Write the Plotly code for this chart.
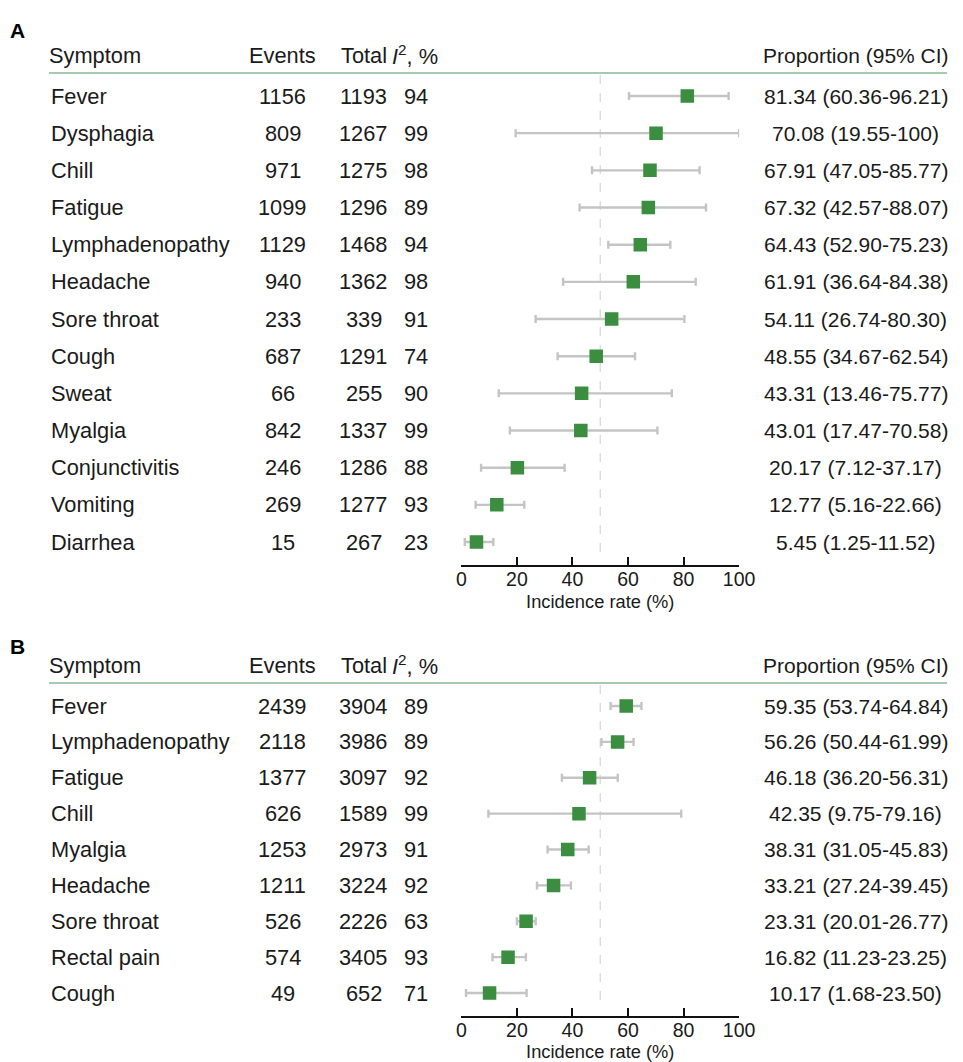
import plotly.graph_objects as go

# ---------------- Panel A data ----------------
symptoms_a = ["Fever", "Dysphagia", "Chill", "Fatigue", "Lymphadenopathy", "Headache",
              "Sore throat", "Cough", "Sweat", "Myalgia", "Conjunctivitis", "Vomiting", "Diarrhea"]
events_a = [1156, 809, 971, 1099, 1129, 940, 233, 687, 66, 842, 246, 269, 15]
total_a = [1193, 1267, 1275, 1296, 1468, 1362, 339, 1291, 255, 1337, 1286, 1277, 267]
i2_a = [94, 99, 98, 89, 94, 98, 91, 74, 90, 99, 88, 93, 23]
prop_a = [81.34, 70.08, 67.91, 67.32, 64.43, 61.91, 54.11, 48.55, 43.31, 43.01, 20.17, 12.77, 5.45]
lo_a = [60.36, 19.55, 47.05, 42.57, 52.90, 36.64, 26.74, 34.67, 13.46, 17.47, 7.12, 5.16, 1.25]
hi_a = [96.21, 100, 85.77, 88.07, 75.23, 84.38, 80.30, 62.54, 75.77, 70.58, 37.17, 22.66, 11.52]

# ---------------- Panel B data ----------------
symptoms_b = ["Fever", "Lymphadenopathy", "Fatigue", "Chill", "Myalgia", "Headache",
              "Sore throat", "Rectal pain", "Cough"]
events_b = [2439, 2118, 1377, 626, 1253, 1211, 526, 574, 49]
total_b = [3904, 3986, 3097, 1589, 2973, 3224, 2226, 3405, 652]
i2_b = [89, 89, 92, 99, 91, 92, 63, 93, 71]
prop_b = [59.35, 56.26, 46.18, 42.35, 38.31, 33.21, 23.31, 16.82, 10.17]
lo_b = [53.74, 50.44, 36.20, 9.75, 31.05, 27.24, 20.01, 11.23, 1.68]
hi_b = [64.84, 61.99, 56.31, 79.16, 45.83, 39.45, 26.77, 23.25, 23.50]

tick_vals = [0, 20, 40, 60, 80, 100]
headers = ["Symptom", "Events", "Total", "<i>I</i><sup>2</sup>, %", "Proportion (95% CI)"]

W, H = 963, 1062
FONT = "Liberation Sans, Arial, Helvetica, sans-serif"
TXT = "#1a1a1a"
GREEN = "#3b8d3f"
BAR = "#c4c4c4"
RULE = "#86b894"
FS = 21.8        # table text size
FS_PROP = 21     # proportion column text size


def fmt(v):
    return "100" if v == 100 else f"{v:.2f}"


def px(x):
    return x / W


# table column anchors (px from the left edge)
head_cols = [(43, "left"), (284, "center"), (367, "center"), (419, "center"), (869.5, "center")]
body_cols = [(45, "left"), (284, "center"), (367, "center"), (420, "center"), (869.5, "center")]
col_sizes = [FS, FS, FS, FS, FS_PROP]
PLOT_X0, PLOT_X1 = 466.5, 750.5

# vertical geometry per panel (px from the top edge)
panels = [
    dict(key="", label="A", row0=96, pitch=37.17, axis_px=565, top_px=0, letter_y=30,
         sym=symptoms_a, ev=events_a, tot=total_a, i2=i2_a, p=prop_a, lo=lo_a, hi=hi_a),
    dict(key="2", label="B", row0=706, pitch=35.875, axis_px=1016, top_px=600, letter_y=646,
         sym=symptoms_b, ev=events_b, tot=total_b, i2=i2_b, p=prop_b, lo=lo_b, hi=hi_b),
]

fig = go.Figure()
annotations = []
shapes = []
layout = {}

for P in panels:
    k = P["key"]
    xa, ya = "x" + k, "y" + k
    n = len(P["sym"])
    rows = list(range(n))

    def to_y(p, P=P):
        return (p - P["row0"]) / P["pitch"]

    layout["xaxis" + k] = dict(
        domain=[px(PLOT_X0), px(PLOT_X1)], range=[0, 100], anchor=ya,
        tickvals=tick_vals, ticks="inside", ticklen=8, tickwidth=2, tickcolor="#111",
        showline=True, linewidth=2, linecolor="#111", showgrid=False, zeroline=False,
        tickfont=dict(size=19.5, color=TXT, family=FONT), ticklabelstandoff=-4,
        title=dict(text="Incidence rate (%)", font=dict(size=18.3, color=TXT, family=FONT),
                   standoff=6),
        fixedrange=True,
    )
    layout["yaxis" + k] = dict(
        domain=[1 - P["axis_px"] / H, 1 - P["top_px"] / H],
        range=[to_y(P["axis_px"]), to_y(P["top_px"])],
        anchor=xa, visible=False, showgrid=False, zeroline=False, fixedrange=True,
    )

    # reference line at 50 %
    fig.add_trace(go.Scatter(
        x=[50, 50], y=[to_y(P["row0"] - 21), to_y(P["axis_px"] - 10)],
        mode="lines", line=dict(color="#d6d6d6", width=1.2, dash="dash"),
        xaxis=xa, yaxis=ya, showlegend=False, hoverinfo="skip"))

    # pooled proportion with 95% CI
    fig.add_trace(go.Scatter(
        x=P["p"], y=rows, mode="markers",
        marker=dict(symbol="square", size=13.5, color=GREEN),
        error_x=dict(type="data", symmetric=False,
                     array=[h - v for h, v in zip(P["hi"], P["p"])],
                     arrayminus=[v - l for v, l in zip(P["p"], P["lo"])],
                     color=BAR, thickness=2.4, width=4),
        xaxis=xa, yaxis=ya, showlegend=False))

    # header rule
    y_rule = to_y(P["row0"] - 23)
    shapes.append(dict(type="line", xref="paper", yref=ya, x0=px(45), x1=1,
                       y0=y_rule, y1=y_rule, line=dict(color=RULE, width=1.5)))

    # panel letter
    annotations.append(dict(text=f"<b>{P['label']}</b>", xref="paper", yref=ya,
                            x=px(3), y=to_y(P["letter_y"]), xanchor="left", yanchor="middle",
                            showarrow=False, font=dict(size=21, color="#000", family=FONT)))

    # header row
    y_head = to_y(P["row0"] - 41)
    for (cx, anc), fs, htxt in zip(head_cols, col_sizes, headers):
        annotations.append(dict(text=htxt, xref="paper", yref=ya, x=px(cx), y=y_head,
                                xanchor=anc, yanchor="middle", showarrow=False,
                                font=dict(size=fs, color=TXT, family=FONT)))

    # table body
    for i in rows:
        cells = [P["sym"][i], str(P["ev"][i]), str(P["tot"][i]), str(P["i2"][i]),
                 f"{P['p'][i]:.2f} ({fmt(P['lo'][i])}-{fmt(P['hi'][i])})"]
        for (cx, anc), fs, ctxt in zip(body_cols, col_sizes, cells):
            annotations.append(dict(text=ctxt, xref="paper", yref=ya, x=px(cx), y=i,
                                    xanchor=anc, yanchor="middle", showarrow=False,
                                    font=dict(size=fs, color=TXT, family=FONT)))

fig.update_layout(
    width=W, height=H, autosize=False, margin=dict(l=0, r=0, t=0, b=0),
    paper_bgcolor="white", plot_bgcolor="white",
    annotations=annotations, shapes=shapes, showlegend=False,
    font=dict(family=FONT, color=TXT),
    **layout,
)

fig.write_html("out.html", config={"responsive": False})
